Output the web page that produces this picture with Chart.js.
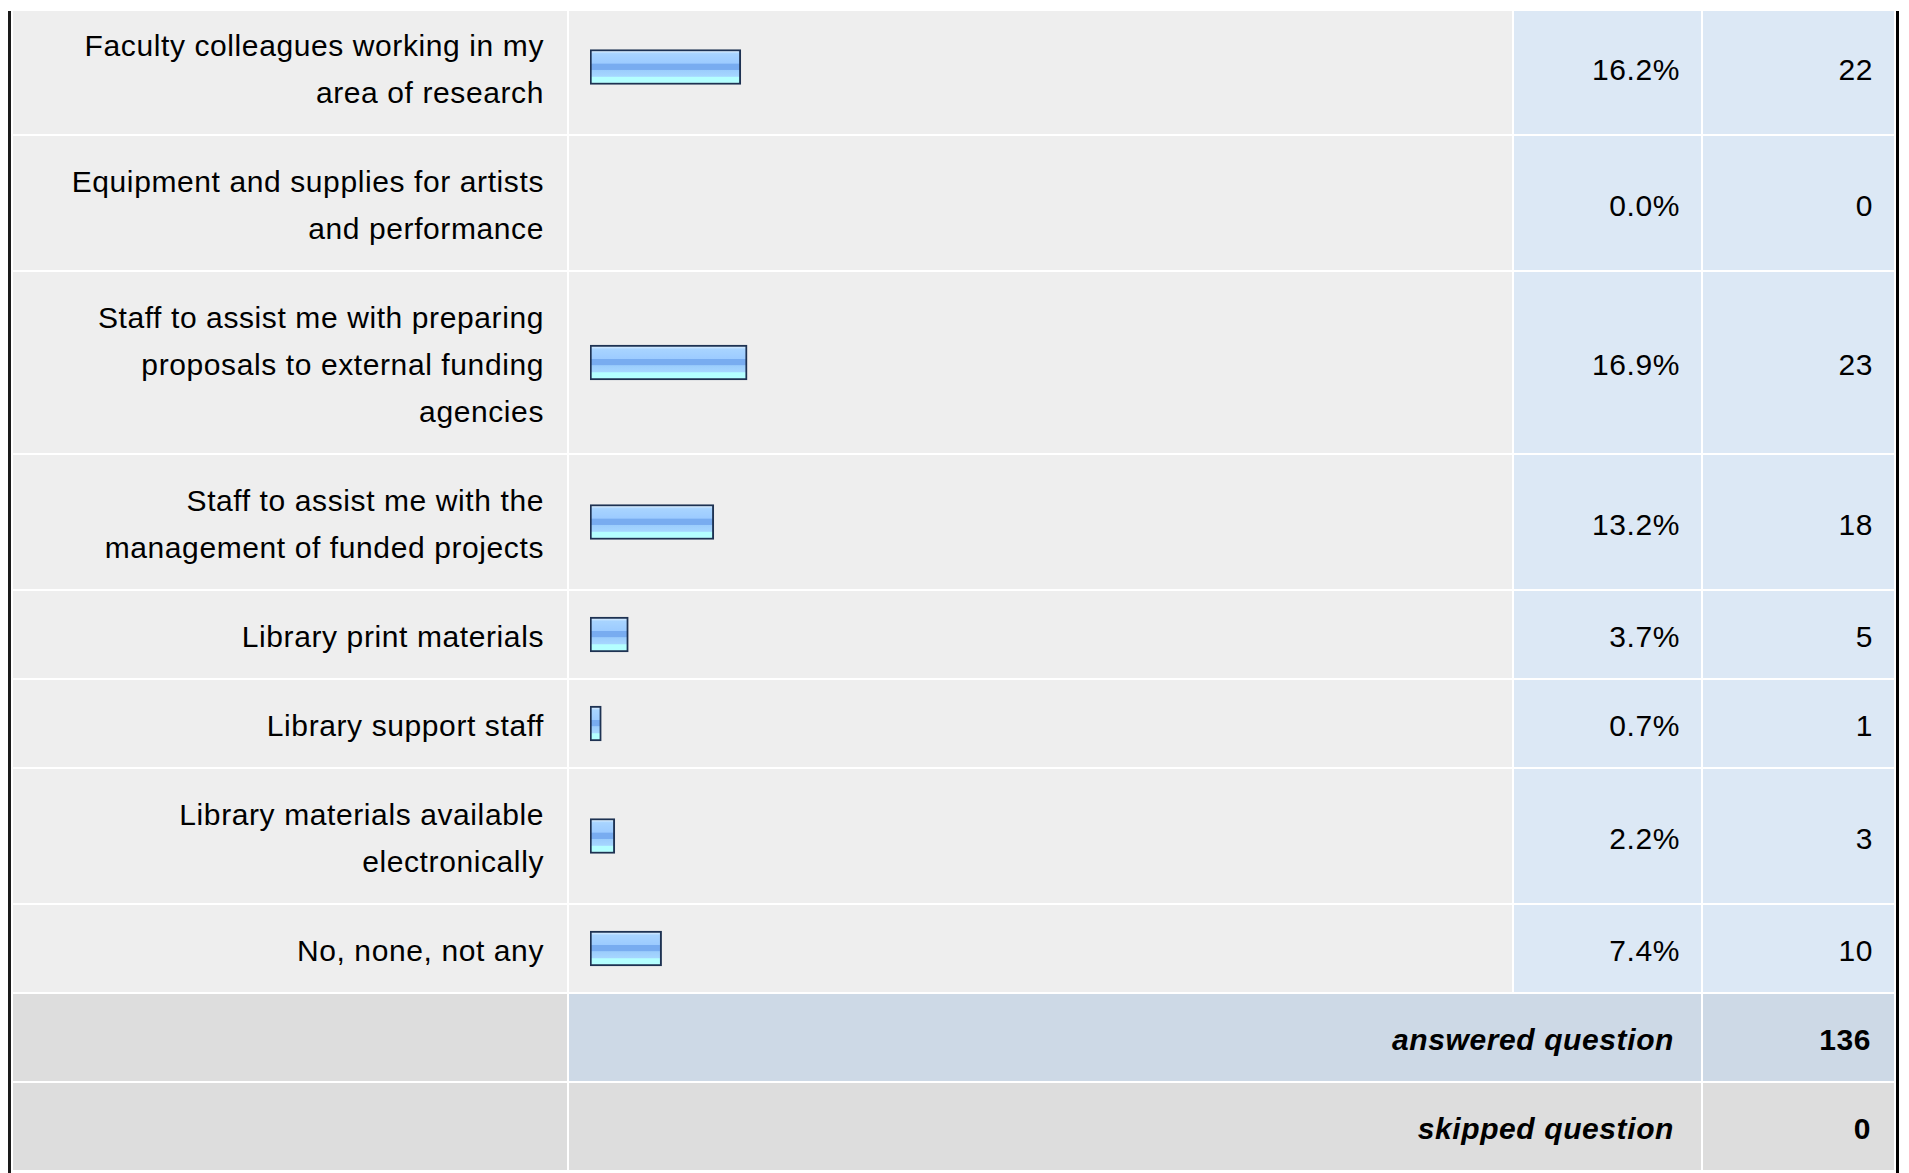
<!DOCTYPE html>
<html>
<head>
<meta charset="utf-8">
<script src="https://cdn.jsdelivr.net/npm/chart.js@4.4.1/dist/chart.umd.min.js"></script>
<style>
html,body{margin:0;padding:0;background:#fff;overflow:hidden}
body{width:1909px;height:1173px;position:relative;font-family:"Liberation Sans",Arial,sans-serif}
#wrap{position:absolute;left:8px;top:11px;width:1885px;height:1162px;border-left:3px solid #1a1a1a;border-right:3px solid #000;overflow:hidden}
table{border-collapse:separate;border-spacing:2px;table-layout:fixed;width:1885px;margin-top:-13px;font-size:30px;letter-spacing:.6px;color:#000}
td{box-sizing:border-box;line-height:47px;padding:22px 0 18px 0;vertical-align:middle;text-align:right}
td.lbl{width:554px;background:#eee;padding-right:23px;white-space:pre-line}
td.bar{width:943px;background:#eee;position:relative}
td.pct{width:187px;background:#dce8f5;padding-right:21px}
td.cnt{width:191px;background:#dce8f5;padding-right:21px}
td.foot{background:#ddd}
td.sum{font-weight:bold;font-style:italic;padding-right:27px}
td.sumv{font-weight:bold;padding-right:23px}
tr.ans td.sum,tr.ans td.sumv{background:#cdd9e6}
tr.skp td.sum,tr.skp td.sumv{background:#ddd}
.cv{position:absolute;left:21px;top:0;bottom:0;width:905px}
</style>
</head>
<body>
<div id="wrap"><table id="tbl"><tbody id="body"></tbody></table></div>
<script>
/* survey response table – bars drawn per row */
const labels=[
  'Faculty colleagues working in my\narea of research',
  'Equipment and supplies for artists\nand performance',
  'Staff to assist me with preparing\nproposals to external funding\nagencies',
  'Staff to assist me with the\nmanagement of funded projects',
  'Library print materials',
  'Library support staff',
  'Library materials available\nelectronically',
  'No, none, not any'
];
const percents=[16.2,0.0,16.9,13.2,3.7,0.7,2.2,7.4];
const counts=[22,0,23,18,5,1,3,10];
const answeredQuestion=136;
const skippedQuestion=0;

(function(){
  const body=document.getElementById('body');
  const canvases=[];
  labels.forEach((lab,i)=>{
    const tr=document.createElement('tr');
    tr.innerHTML='<td class="lbl"></td><td class="bar"><div class="cv"><canvas></canvas></div></td><td class="pct"></td><td class="cnt"></td>';
    tr.children[0].textContent=lab;
    tr.children[2].textContent=percents[i].toFixed(1)+'%';
    tr.children[3].textContent=counts[i];
    body.appendChild(tr);
    canvases.push(tr.querySelector('canvas'));
  });
  const foot=[['ans','answered question',answeredQuestion],['skp','skipped question',skippedQuestion]];
  foot.forEach(f=>{
    const tr=document.createElement('tr');
    tr.className=f[0];
    tr.innerHTML='<td class="foot"></td><td class="sum" colspan="2"></td><td class="sumv"></td>';
    tr.children[1].textContent=f[1];
    tr.children[2].textContent=f[2];
    body.appendChild(tr);
  });

  // glossy bar fill, banded like the original image bars
  const stops=[[0,'#d2eaff'],[0.07,'#a8d4ff'],[0.38,'#9ccbff'],[0.4,'#78acf0'],[0.58,'#78acf0'],[0.6,'#9bcdfc'],[0.8,'#a6d6ff'],[0.83,'#b4ffff'],[1,'#b4ffff']];
  function barFill(c){
    const ch=c.chart,y=ch.scales&&ch.scales.y;
    if(!y||!ch.chartArea) return '#9ccbff';
    const mid=y.getPixelForValue(c.dataIndex||0);
    if(!isFinite(mid)) return '#9ccbff';
    const g=ch.ctx.createLinearGradient(0,mid-15.5,0,mid+15.5);
    stops.forEach(s=>g.addColorStop(s[0],s[1]));
    return g;
  }
  const edge=-5/9; // bars carry a small fixed lead-in past zero

  canvases.forEach((cv,i)=>{
    new Chart(cv,{
      type:'bar',
      data:{labels:[labels[i]],datasets:[{
        data:[percents[i]>0?percents[i]:null],
        base:edge,
        backgroundColor:barFill,
        borderColor:'#1e3252',
        borderWidth:2,
        borderSkipped:false,
        barThickness:35
      }]},
      options:{
        indexAxis:'y',
        responsive:true,
        maintainAspectRatio:false,
        animation:false,
        layout:{padding:0},
        plugins:{legend:{display:false},tooltip:{enabled:false}},
        scales:{
          x:{type:'linear',min:edge,max:100,display:false},
          y:{type:'category',display:false}
        }
      }
    });
  });
})();
</script>
</body>
</html>
